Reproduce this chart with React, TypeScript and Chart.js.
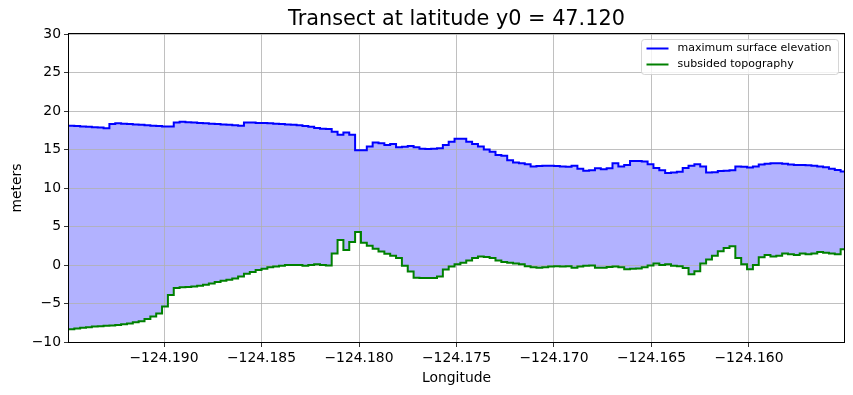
import React, { useEffect, useRef } from 'react';
import { Chart, registerables } from 'chart.js';

Chart.register(...registerables);

const TITLE = 'Transect at latitude y0 = 47.120';
const X_LABEL = 'Longitude';
const Y_LABEL = 'meters';
const SERIES_NAMES = ['maximum surface elevation', 'subsided topography'];

const LONGITUDE = [
  -124.1949, -124.1946, -124.1943, -124.194, -124.1937, -124.1934, -124.1931, -124.1928, -124.1925, -124.1922,
  -124.1919, -124.1916, -124.1913, -124.191, -124.1907, -124.1904, -124.1901, -124.1898, -124.1895, -124.1892,
  -124.1889, -124.1886, -124.1883, -124.188, -124.1877, -124.1874, -124.1871, -124.1868, -124.1865, -124.1862,
  -124.1859, -124.1856, -124.1853, -124.185, -124.1847, -124.1844, -124.1841, -124.1838, -124.1835, -124.1832,
  -124.1829, -124.1826, -124.1823, -124.182, -124.1817, -124.1814, -124.1811, -124.1808, -124.1805, -124.1802,
  -124.1799, -124.1796, -124.1793, -124.179, -124.1787, -124.1784, -124.1781, -124.1778, -124.1775, -124.1772,
  -124.1769, -124.1766, -124.1763, -124.176, -124.1757, -124.1754, -124.1751, -124.1748, -124.1745, -124.1742,
  -124.1739, -124.1736, -124.1733, -124.173, -124.1727, -124.1724, -124.1721, -124.1718, -124.1715, -124.1712,
  -124.1709, -124.1706, -124.1703, -124.17, -124.1697, -124.1694, -124.1691, -124.1688, -124.1685, -124.1682,
  -124.1679, -124.1676, -124.1673, -124.167, -124.1667, -124.1664, -124.1661, -124.1658, -124.1655, -124.1652,
  -124.1649, -124.1646, -124.1643, -124.164, -124.1637, -124.1634, -124.1631, -124.1628, -124.1625, -124.1622,
  -124.1619, -124.1616, -124.1613, -124.161, -124.1607, -124.1604, -124.1601, -124.1598, -124.1595, -124.1592,
  -124.1589, -124.1586, -124.1583, -124.158, -124.1577, -124.1574, -124.1571, -124.1568, -124.1565, -124.1562,
  -124.1559, -124.1556, -124.1553, -124.155,
];

const MAX_SURFACE = [
  18.1, 18.05, 18.0, 17.95, 17.9, 17.85, 17.75, 18.3, 18.4, 18.35,
  18.3, 18.25, 18.2, 18.15, 18.1, 18.05, 18.0, 18.0, 18.5, 18.6,
  18.55, 18.5, 18.45, 18.4, 18.35, 18.3, 18.25, 18.2, 18.15, 18.1,
  18.5, 18.5, 18.45, 18.45, 18.4, 18.35, 18.3, 18.25, 18.2, 18.15,
  18.05, 17.95, 17.8, 17.7, 17.65, 17.3, 16.9, 17.2, 16.9, 14.9,
  14.9, 15.4, 15.9, 15.8, 15.6, 15.7, 15.3, 15.35, 15.45, 15.3,
  15.1, 15.05, 15.1, 15.15, 15.6, 16.0, 16.4, 16.4, 16.0, 15.7,
  15.4, 15.0, 14.7, 14.3, 14.2, 13.6, 13.3, 13.2, 13.1, 12.8,
  12.85, 12.9, 12.9, 12.85, 12.8, 12.75, 12.9, 12.5, 12.25, 12.3,
  12.55, 12.45, 12.55, 13.2, 12.8, 13.0, 13.5, 13.5, 13.45, 13.1,
  12.6, 12.3, 11.95, 12.0, 12.1, 12.6, 12.9, 13.1, 12.8, 12.0,
  12.05, 12.2, 12.25, 12.3, 12.8, 12.75, 12.65, 12.8, 13.05, 13.15,
  13.2, 13.2, 13.15, 13.05, 13.0, 13.0, 12.95, 12.9, 12.8, 12.7,
  12.5, 12.35, 12.15, 12.0,
];

const SUBSIDED = [
  -8.35, -8.25, -8.15, -8.1, -8.0, -7.95, -7.9, -7.85, -7.8, -7.7,
  -7.6, -7.45, -7.3, -7.0, -6.7, -6.3, -5.4, -3.9, -3.0, -2.9,
  -2.85, -2.8, -2.7, -2.55, -2.4, -2.2, -2.05, -1.9, -1.75, -1.5,
  -1.15, -0.9, -0.65, -0.5, -0.3, -0.2, -0.1, 0.0, 0.0, 0.0,
  -0.1, 0.0, 0.1, 0.0, -0.05, 1.5, 3.25, 1.95, 3.0, 4.3,
  2.9, 2.5, 2.1, 1.75, 1.45, 1.2, 0.9, -0.1, -0.85, -1.65,
  -1.7, -1.7, -1.7, -1.5, -0.6, -0.2, 0.1, 0.3, 0.6, 0.9,
  1.1, 1.05, 0.9, 0.6, 0.4, 0.3, 0.2, 0.1, -0.15, -0.3,
  -0.35, -0.3, -0.2, -0.15, -0.2, -0.15, -0.35, -0.2, -0.1, -0.05,
  -0.35, -0.35, -0.25, -0.2, -0.3, -0.55, -0.5, -0.45, -0.3, -0.05,
  0.2, 0.0, 0.1, -0.1, -0.15, -0.4, -1.2, -0.8, 0.2, 0.7,
  1.2, 1.8, 2.2, 2.45, 0.9, 0.1, -0.55, 0.0, 1.0, 1.3,
  1.1, 1.2, 1.5, 1.4, 1.3, 1.5, 1.4, 1.5, 1.7, 1.6,
  1.5, 1.4, 2.05, 2.15,
];

const X_TICKS = [-124.19, -124.185, -124.18, -124.175, -124.17, -124.165, -124.16];
const Y_TICKS = [-10, -5, 0, 5, 10, 15, 20, 25, 30];
const X_MIN = -124.194872;
const X_MAX = -124.155128;
const Y_MIN = -10;
const Y_MAX = 30;

const FONT = 'DejaVu Sans';
const MINUS = '\u2212';

const framePlugin = {
  id: 'frame',
  afterDatasetsDraw(chart: any) {
    const { ctx, chartArea: a } = chart;
    ctx.save();
    ctx.strokeStyle = '#000';
    ctx.lineWidth = 1;
    ctx.strokeRect(Math.round(a.left) - 0.5, Math.round(a.top) - 0.5, Math.round(a.right - a.left) + 1, Math.round(a.bottom - a.top) + 1);
    ctx.restore();
  },
};

const axesTitlePlugin = {
  id: 'axesTitle',
  afterDraw(chart: any) {
    const { ctx, chartArea: a } = chart;
    ctx.save();
    ctx.font = `20.8px "${FONT}"`;
    ctx.fillStyle = '#000';
    ctx.textAlign = 'center';
    ctx.textBaseline = 'middle';
    ctx.fillText(TITLE, (a.left + a.right) / 2, 19.5);
    ctx.restore();
  },
};

const legendPlugin = {
  id: 'mplLegend',
  afterDraw(chart: any) {
    const { ctx, chartArea: a } = chart;
    const w = 197;
    const h = 35;
    const x = Math.round(a.right) - 6 - w + 0.5;
    const y = Math.round(a.top) + 5 + 0.5;
    ctx.save();
    ctx.beginPath();
    if ((ctx as any).roundRect) (ctx as any).roundRect(x, y, w, h, 3);
    else ctx.rect(x, y, w, h);
    ctx.fillStyle = 'rgba(255,255,255,0.8)';
    ctx.fill();
    ctx.strokeStyle = 'rgba(204,204,204,0.8)';
    ctx.lineWidth = 1;
    ctx.stroke();
    ctx.font = `11px "${FONT}"`;
    ctx.textBaseline = 'middle';
    ctx.textAlign = 'left';
    chart.data.datasets.forEach((ds: any, i: number) => {
      const cy = y + 9 + i * 16;
      ctx.beginPath();
      ctx.strokeStyle = ds.borderColor;
      ctx.lineWidth = 2;
      ctx.moveTo(x + 5, cy);
      ctx.lineTo(x + 27, cy);
      ctx.stroke();
      ctx.fillStyle = '#000';
      ctx.fillText(ds.label, x + 36, cy);
    });
    ctx.restore();
  },
};

function fmtX(v: number) {
  const s = Number(v).toFixed(3);
  return s.replace('-', MINUS);
}
function fmtY(v: number) {
  return String(Math.round(Number(v))).replace('-', MINUS);
}

export default function App() {
  const ref = useRef<HTMLCanvasElement | null>(null);

  useEffect(() => {
    if (!ref.current) return;
    const upper = LONGITUDE.map((x, i) => ({ x, y: MAX_SURFACE[i] }));
    const lower = LONGITUDE.map((x, i) => ({ x, y: SUBSIDED[i] }));
    const chart = new Chart(ref.current, {
      type: 'line',
      data: {
        datasets: [
          {
            label: SERIES_NAMES[0],
            data: upper,
            borderColor: '#0000ff',
            backgroundColor: 'rgba(0,0,255,0.3)',
            borderWidth: 2,
            pointRadius: 0,
            stepped: 'before',
            fill: '+1',
          },
          {
            label: SERIES_NAMES[1],
            data: lower,
            borderColor: '#008000',
            backgroundColor: 'rgba(0,128,0,0)',
            borderWidth: 2,
            pointRadius: 0,
            stepped: 'before',
            fill: false,
          },
        ],
      },
      options: {
        responsive: false,
        animation: false,
        devicePixelRatio: 1,
        layout: { padding: { left: 0, right: 9, top: 34, bottom: 0 } },
        plugins: {
          legend: { display: false },
          tooltip: { enabled: false },
          filler: { drawTime: 'beforeDraw' },
          title: { display: false },
        },
        scales: {
          x: {
            type: 'linear',
            min: X_MIN,
            max: X_MAX,
            afterBuildTicks: (s: any) => {
              s.ticks = X_TICKS.map((v) => ({ value: v }));
            },
            afterFit: (s: any) => {
              s.height = 53;
            },
            ticks: {
              autoSkip: false,
              maxRotation: 0,
              padding: 3,
              color: '#000',
              font: { family: FONT, size: 13.9 },
              callback: (v: any) => fmtX(v),
            },
            grid: { color: '#b0b0b0', lineWidth: 0.8, drawTicks: true, tickLength: 5, tickColor: '#000' },
            border: { display: false },
            title: {
              display: true,
              text: X_LABEL,
              color: '#000',
              font: { family: FONT, size: 13.9 },
              padding: { top: 0, bottom: 8.2 },
            },
          },
          y: {
            type: 'linear',
            min: Y_MIN,
            max: Y_MAX,
            afterBuildTicks: (s: any) => {
              s.ticks = Y_TICKS.map((v) => ({ value: v }));
            },
            afterFit: (s: any) => {
              s.width = 69;
            },
            ticks: {
              padding: 3,
              color: '#000',
              font: { family: FONT, size: 13.9 },
              callback: (v: any) => fmtY(v),
            },
            grid: { color: '#b0b0b0', lineWidth: 0.8, drawTicks: true, tickLength: 5, tickColor: '#000' },
            border: { display: false },
            title: {
              display: true,
              text: Y_LABEL,
              color: '#000',
              font: { family: FONT, size: 13.9 },
              padding: { top: 8.7, bottom: 0 },
            },
          },
        },
      } as any,
      plugins: [framePlugin, axesTitlePlugin, legendPlugin],
    });
    return () => chart.destroy();
  }, []);

  return (
    <div style={{ position: 'absolute', left: 0, top: 0, width: 853, height: 395, background: '#fff' }}>
      <canvas ref={ref} width={853} height={395} style={{ display: 'block' }} />
    </div>
  );
}
